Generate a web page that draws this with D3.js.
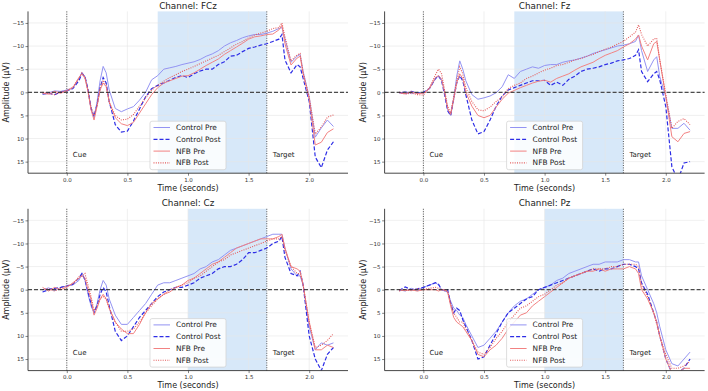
<!DOCTYPE html>
<html>
<head>
<meta charset="utf-8">
<script src="https://cdn.jsdelivr.net/npm/d3@7"></script>
<style>
  body { margin: 0; background: #fff; }
  svg { display: block; font-family: "DejaVu Sans", sans-serif; }
</style>
</head>
<body>
<div id="chart"></div>
<script>
// sample times (seconds)
const times = [-0.2, -0.15, -0.1, -0.05, 0, 0.05, 0.1, 0.125, 0.15, 0.175, 0.2, 0.225, 0.25, 0.275, 0.3, 0.325, 0.35,
  0.4, 0.45, 0.5, 0.55, 0.6, 0.65, 0.7, 0.75, 0.8, 0.85, 0.9, 0.95, 1.0, 1.05, 1.1, 1.15, 1.2, 1.25, 1.3, 1.35, 1.4,
  1.45, 1.5, 1.55, 1.6, 1.65, 1.7, 1.75, 1.775, 1.8, 1.85, 1.9, 1.925, 1.95, 2.0, 2.05, 2.1, 2.15, 2.2];

const channels = ['FCz', 'Fz', 'Cz', 'Pz'];
const seriesNames = ['Control Pre', 'Control Post', 'NFB Pre', 'NFB Post'];
const windowStart = [0.75, 0.75, 1.0, 1.0];
const windowEnd = 1.65;
const cueTime = 0;
const xTicks = [0, 0.5, 1.0, 1.5, 2.0];
const yTicks = [-15, -10, -5, 0, 5, 10, 15];

// amplitudes in microvolts
const fczControlPre = [0.3, 0.1, -0.3, -0.2, -0.5, -0.9, -3.0, -4.3, -3.4, -0.5, 3.5, 5.6, 2.0, -2.5, -5.6, -4.2, -0.5,
  3.5, 4.2, 3.6, 3.1, 1.7, 0.0, -2.7, -3.6, -5.0, -5.3, -5.6, -6.0, -6.3, -6.6, -7.1, -7.8, -8.3, -9.0, -10.0, -10.7, -11.2,
  -11.8, -12.2, -12.5, -12.5, -12.8, -13.2, -13.8, -14.0, -11.5, -6.5, -7.8, -8.2, -4.5, 1.0, 9.7, 7.7, 6.0, 7.4];
const fczControlPost = [0.4, 0.2, 0.5, 0.0, -0.3, -0.8, -2.5, -4.0, -3.4, -0.6, 3.5, 5.2, 2.6, -1.0, -3.2, -2.0, 2.0,
  7.0, 8.6, 8.4, 6.2, 3.6, 1.0, -0.8, -1.5, -2.0, -2.6, -3.2, -3.6, -3.2, -4.0, -4.6, -5.0, -5.0, -6.0, -6.6, -7.8, -8.0,
  -8.8, -9.5, -9.8, -10.2, -10.5, -11.0, -11.5, -12.5, -7.0, -4.2, -6.0, -5.5, -3.0, 2.0, 14.0, 16.3, 12.5, 10.7];
const fczNfbPre = [0.2, 0.4, -0.2, 0.2, -0.3, -1.0, -3.2, -4.0, -3.0, -0.2, 3.8, 6.0, 3.0, -0.5, -2.0, -1.2, 2.0,
  5.5, 6.8, 7.2, 6.5, 4.5, 2.5, 0.5, -1.0, -2.0, -2.5, -3.0, -3.5, -3.6, -4.2, -5.0, -5.8, -6.5, -7.2, -8.2, -9.0, -9.8,
  -10.6, -11.5, -12.0, -12.2, -12.5, -12.6, -13.5, -14.5, -10.5, -5.9, -7.4, -7.8, -4.0, 1.5, 11.4, 10.8, 8.7, 7.9];
const fczNfbPost = [0.0, 0.3, 0.5, -0.1, -0.4, -1.1, -3.0, -4.2, -3.3, -0.3, 3.2, 5.0, 2.8, -1.0, -2.6, -1.5, 2.2,
  5.0, 6.0, 5.8, 4.8, 3.0, 1.2, -0.5, -1.5, -2.4, -3.2, -3.8, -4.5, -5.0, -5.6, -6.2, -6.8, -7.4, -8.0, -8.8, -9.6, -10.4,
  -11.0, -11.8, -12.4, -12.8, -13.2, -13.8, -14.0, -15.0, -12.0, -6.8, -8.1, -8.4, -4.2, 1.0, 9.0, 7.5, 5.4, 4.9];

const fzControlPre = [0.2, -0.2, 0.3, 0.0, 0.3, -0.8, -3.0, -3.6, -2.8, 0.0, 3.6, 5.0, 1.5, -3.5, -6.8, -5.0, -2.5,
  0.5, 1.5, 1.2, 0.8, 0.1, -1.2, -3.8, -3.0, -4.5, -5.0, -5.5, -5.2, -5.8, -6.0, -6.0, -6.5, -6.8, -7.0, -7.4, -7.8, -8.4,
  -8.8, -9.2, -9.6, -10.0, -10.2, -10.5, -11.0, -12.4, -9.0, -4.5, -7.0, -7.7, -3.4, 1.0, 7.8, 7.8, 6.7, 8.2];
const fzControlPost = [0.0, 0.3, -0.2, 0.2, 0.0, -0.8, -3.0, -3.5, -2.5, 0.5, 4.0, 5.0, 1.5, -2.0, -3.6, -2.5, 0.5,
  6.0, 9.0, 8.5, 6.0, 3.0, 0.8, -0.5, -1.0, -1.5, -2.0, -2.5, -2.5, -2.6, -1.5, -2.2, -1.5, -2.8, -3.5, -4.5, -5.0, -5.2,
  -5.5, -6.0, -6.3, -6.8, -7.0, -7.3, -8.0, -9.2, -4.5, -2.3, -4.0, -4.5, -2.7, 3.1, 16.1, 19.0, 15.3, 15.0];
const fzNfbPre = [0.1, 0.3, -0.1, 0.3, 0.2, -0.8, -3.2, -3.6, -2.8, 0.0, 3.5, 4.8, 1.5, -2.0, -4.0, -3.0, 0.0,
  3.0, 5.0, 5.5, 5.0, 3.2, 1.5, 0.2, -0.4, -1.0, -1.5, -2.0, -2.4, -2.6, -2.2, -3.0, -3.5, -4.0, -4.8, -5.5, -6.0, -6.5,
  -7.3, -8.0, -8.5, -9.0, -9.8, -10.5, -11.5, -12.4, -10.0, -7.0, -10.5, -11.0, -7.0, 1.0, 9.6, 10.7, 8.9, 8.5];
const fzNfbPost = [0.0, 0.4, 0.2, 0.5, 0.6, -1.0, -3.8, -5.0, -4.0, -0.5, 3.0, 4.5, 1.0, -2.5, -5.5, -4.0, -1.0,
  2.0, 3.8, 4.0, 3.2, 2.0, 1.0, -0.8, -1.5, -2.0, -3.0, -3.5, -4.2, -4.8, -5.2, -5.8, -6.0, -6.5, -7.0, -7.3, -7.8, -8.2,
  -8.8, -9.3, -9.8, -10.4, -11.0, -12.0, -13.0, -14.6, -12.5, -10.0, -11.5, -11.7, -7.0, 0.5, 7.8, 6.3, 5.7, 7.0];

const czControlPre = [0.0, -0.4, 0.2, -0.5, -0.8, -1.0, -2.0, -3.5, -2.0, 1.0, 3.5, 5.0, 3.0, 0.0, -2.0, -1.0, 2.0,
  5.5, 7.5, 7.5, 6.0, 4.5, 3.0, 1.0, -1.0, -1.5, -1.5, -2.0, -2.5, -3.0, -3.5, -4.5, -5.0, -6.0, -6.5, -7.5, -8.5, -9.0,
  -9.5, -10.0, -10.5, -11.0, -11.5, -12.0, -12.0, -12.0, -9.0, -4.5, -3.0, -3.0, -1.0, 8.0, 13.0, 11.5, 12.0, 11.5];
const czControlPost = [0.5, 0.0, -0.3, -0.5, -0.8, -1.2, -2.5, -3.5, -2.2, 0.5, 3.0, 5.0, 3.5, 1.0, -0.5, 0.5, 3.5,
  9.0, 11.0, 10.0, 8.0, 6.0, 4.5, 3.0, 1.5, 0.5, 0.0, -0.5, -0.5, -1.0, -1.5, -2.5, -3.0, -3.5, -4.5, -5.0, -5.0, -5.5,
  -6.5, -8.0, -8.0, -8.5, -9.0, -10.0, -10.5, -11.5, -7.0, -3.5, -3.0, -4.0, -1.0, 10.0, 15.0, 17.5, 14.0, 12.5];
const czNfbPre = [-0.5, 0.3, -0.5, 0.0, -0.5, -1.5, -2.5, -3.0, -2.5, 0.0, 2.0, 5.5, 4.0, 2.0, 1.0, 2.0, 4.0,
  7.0, 8.5, 9.5, 9.5, 7.5, 5.0, 3.0, 2.0, 1.0, 0.5, -0.5, -1.0, -2.0, -2.5, -3.5, -4.5, -5.5, -6.0, -7.0, -8.0, -9.0,
  -9.5, -10.0, -10.5, -11.0, -11.0, -11.0, -11.5, -12.0, -9.0, -5.0, -4.5, -4.0, -1.0, 7.0, 13.0, 13.0, 12.0, 12.5];
const czNfbPost = [0.0, -0.2, 0.3, -0.3, -0.8, -1.2, -2.8, -3.0, -3.5, -1.0, 1.5, 4.5, 3.5, 2.0, 1.5, 2.0, 4.0,
  7.0, 9.0, 9.0, 8.5, 7.0, 5.0, 3.5, 2.0, 1.0, 0.0, -0.5, -1.0, -1.5, -2.5, -3.0, -4.0, -5.0, -6.0, -6.5, -7.5, -8.0,
  -8.5, -9.0, -9.5, -10.0, -10.5, -11.0, -11.0, -11.5, -8.5, -5.0, -3.5, -3.5, -1.0, 7.0, 12.5, 12.0, 11.0, 9.5];

const pzControlPre = [0.0, 0.3, -0.3, 0.2, -0.5, -1.0, -1.5, -1.0, 0.0, 0.3, 0.5, 2.5, 4.0, 4.5, 5.5, 6.0, 7.5,
  10.0, 12.5, 12.0, 10.5, 9.0, 7.0, 5.0, 3.5, 2.5, 2.0, 1.0, 0.0, -0.5, -1.0, -2.0, -2.5, -3.5, -4.0, -4.5, -5.0, -5.5,
  -5.5, -6.0, -6.0, -6.0, -6.5, -6.5, -6.0, -6.0, -3.0, 0.0, 3.0, 5.0, 8.0, 13.0, 16.0, 16.5, 15.0, 13.5];
const pzControlPost = [0.2, -0.6, 0.0, -0.2, -0.5, -1.0, -1.5, -1.2, 0.0, 0.0, 0.0, 3.0, 5.0, 4.0, 4.5, 6.5, 8.0,
  11.0, 15.0, 14.5, 12.0, 9.5, 7.0, 5.0, 4.0, 3.0, 2.0, 1.5, 0.0, -0.5, -1.0, -1.5, -2.0, -2.5, -3.0, -3.5, -4.0, -4.5,
  -4.0, -4.5, -4.5, -5.0, -5.5, -5.5, -5.0, -4.5, -1.5, 1.0, 5.0, 7.0, 10.0, 15.0, 18.0, 18.0, 17.0, 15.0];
const pzNfbPre = [0.0, 0.2, 0.0, 0.3, 0.0, 0.0, 0.0, 0.3, 0.0, 0.0, 0.5, 3.5, 6.0, 7.0, 7.5, 8.0, 9.0,
  11.0, 14.0, 14.5, 13.0, 12.0, 10.5, 8.5, 7.0, 5.5, 5.0, 3.5, 2.5, 1.5, 0.5, -0.5, -1.5, -2.5, -3.0, -3.5, -4.0, -4.0,
  -4.5, -4.0, -4.5, -4.5, -4.5, -5.0, -4.5, -3.5, 0.0, 2.0, 5.0, 7.0, 10.0, 15.0, 18.0, 18.0, 17.0, 17.0];
const pzNfbPost = [0.3, 0.0, 0.2, -0.2, 0.0, -0.3, -0.5, -0.3, 0.0, 0.2, 0.3, 3.0, 5.0, 6.0, 7.0, 7.0, 8.5,
  11.0, 13.5, 14.0, 12.5, 10.5, 9.0, 7.0, 5.5, 4.0, 3.5, 2.5, 1.5, 1.0, 0.0, -1.0, -1.5, -2.5, -3.0, -3.5, -4.0, -4.5,
  -4.5, -4.5, -5.0, -5.0, -5.5, -5.5, -5.5, -5.0, -1.0, 1.5, 5.0, 7.5, 10.0, 14.0, 17.0, 17.0, 16.5, 15.5];

const channelSeries = [
  [fczControlPre, fczControlPost, fczNfbPre, fczNfbPost],
  [fzControlPre, fzControlPost, fzNfbPre, fzNfbPost],
  [czControlPre, czControlPost, czNfbPre, czNfbPost],
  [pzControlPre, pzControlPost, pzNfbPre, pzNfbPost]
];

const width = 708, height = 391;
const lineStyles = [
  { color: '#9393f2', dash: null, w: 1.0 },
  { color: '#2d2de6', dash: '4,2', w: 1.2 },
  { color: '#f28282', dash: null, w: 1.0 },
  { color: '#e45a5a', dash: '1,1.3', w: 1.1 }
];

const panels = [
  { left: 28, top: 11.4 },
  { left: 384.6, top: 11.4 },
  { left: 28, top: 208.8 },
  { left: 384.6, top: 208.8 }
];
const pw = 320, ph = 161.8;

const svg = d3.select('#chart').append('svg')
  .attr('width', width)
  .attr('height', height)
  .style('background', 'white');

const fmtX = d3.format('.1f');
const fmtY = v => v < 0 ? '\u2212' + Math.abs(v) : String(v);

channels.forEach((ch, i) => {
  const p = panels[i];
  const x = d3.scaleLinear().domain([-0.32, 2.32]).range([0, pw]);
  const y = d3.scaleLinear().domain([-17.5, 17.5]).range([0, ph]);

  const g = svg.append('g').attr('transform', `translate(${p.left},${p.top})`);

  g.append('clipPath').attr('id', 'clip' + i)
    .append('rect').attr('width', pw).attr('height', ph);

  // analysis window
  g.append('rect')
    .attr('x', x(windowStart[i]))
    .attr('y', 0)
    .attr('width', x(windowEnd) - x(windowStart[i]))
    .attr('height', ph)
    .attr('fill', '#d7e8f9');

  // grid
  g.selectAll('.gx').data(xTicks).enter().append('line')
    .attr('x1', d => x(d)).attr('x2', d => x(d))
    .attr('y1', 0).attr('y2', ph)
    .attr('stroke', '#e6e6e6').attr('stroke-width', 0.6);
  g.selectAll('.gy').data(yTicks).enter().append('line')
    .attr('x1', 0).attr('x2', pw)
    .attr('y1', d => y(d)).attr('y2', d => y(d))
    .attr('stroke', '#e6e6e6').attr('stroke-width', 0.6);

  // event markers
  [cueTime, windowEnd].forEach(t => {
    g.append('line')
      .attr('x1', x(t)).attr('x2', x(t))
      .attr('y1', 0).attr('y2', ph)
      .attr('stroke', '#555').attr('stroke-width', 1)
      .attr('stroke-dasharray', '1,1.4');
  });

  // series
  const line = d3.line()
    .x((d, k) => x(times[k]))
    .y(d => y(d));
  const lg = g.append('g').attr('clip-path', `url(#clip${i})`);
  channelSeries[i].forEach((vals, s) => {
    const st = lineStyles[s];
    lg.append('path')
      .datum(vals)
      .attr('d', line)
      .attr('fill', 'none')
      .attr('stroke', st.color)
      .attr('stroke-width', st.w)
      .attr('stroke-dasharray', st.dash);
  });

  // zero line
  g.append('line')
    .attr('x1', 0).attr('x2', pw)
    .attr('y1', y(0)).attr('y2', y(0))
    .attr('stroke', '#222').attr('stroke-width', 1)
    .attr('stroke-dasharray', '4,2');

  // event labels
  g.append('text')
    .attr('x', x(0.05)).attr('y', y(13.6))
    .attr('dominant-baseline', 'central')
    .style('font-size', '7px').attr('fill', '#222')
    .text('Cue');
  g.append('text')
    .attr('x', x(1.70)).attr('y', y(13.6))
    .attr('dominant-baseline', 'central')
    .style('font-size', '7px').attr('fill', '#222')
    .text('Target');

  // axes
  const xAxis = d3.axisBottom(x).tickValues(xTicks).tickFormat(fmtX).tickSize(2.5).tickPadding(2);
  const yAxis = d3.axisLeft(y).tickValues(yTicks).tickFormat(fmtY).tickSize(2.5).tickPadding(1.5);
  const xa = g.append('g').attr('transform', `translate(0,${ph})`).call(xAxis);
  const ya = g.append('g').call(yAxis);
  [xa, ya].forEach(a => {
    a.select('.domain').attr('stroke', '#333').attr('stroke-width', 0.9);
    a.selectAll('.tick line').attr('stroke', '#333').attr('stroke-width', 0.6);
    a.selectAll('.tick text').style('font-size', '5.5px').attr('fill', '#333')
      .style('font-family', '"DejaVu Sans", sans-serif');
  });
  // only left and bottom spines
  ya.select('.domain').attr('d', `M0,0V${ph}`);
  xa.select('.domain').attr('d', `M0,0H${pw}`);

  // title and labels
  g.append('text')
    .attr('x', pw / 2).attr('y', -2.5)
    .attr('text-anchor', 'middle')
    .style('font-size', '8.8px').attr('fill', '#222')
    .text('Channel: ' + ch);
  g.append('text')
    .attr('x', pw / 2).attr('y', ph + 17.5)
    .attr('text-anchor', 'middle')
    .style('font-size', '8px').attr('fill', '#222')
    .text('Time (seconds)');
  g.append('text')
    .attr('transform', `translate(${-19},${ph / 2}) rotate(-90)`)
    .attr('text-anchor', 'middle')
    .style('font-size', '8px').attr('fill', '#222')
    .text('Amplitude (\u03bcV)');

  // legend, lower centre
  const lw = 76, lh = 48.5;
  const lx = pw / 2 - lw / 2, ly = ph - 3.5 - lh;
  const leg = g.append('g').attr('transform', `translate(${lx},${ly})`);
  leg.append('rect')
    .attr('width', lw).attr('height', lh)
    .attr('rx', 2)
    .attr('fill', 'white').attr('fill-opacity', 0.85)
    .attr('stroke', '#d0d0d0').attr('stroke-width', 0.7);
  seriesNames.forEach((name, s) => {
    const st = lineStyles[s];
    const cy = 6.3 + s * 11.8;
    leg.append('line')
      .attr('x1', 3.5).attr('x2', 20)
      .attr('y1', cy).attr('y2', cy)
      .attr('stroke', st.color).attr('stroke-width', st.w)
      .attr('stroke-dasharray', st.dash);
    leg.append('text')
      .attr('x', 26).attr('y', cy)
      .attr('dominant-baseline', 'central')
      .style('font-size', '7.4px').attr('fill', '#222')
      .text(name);
  });
});
</script>
</body>
</html>
